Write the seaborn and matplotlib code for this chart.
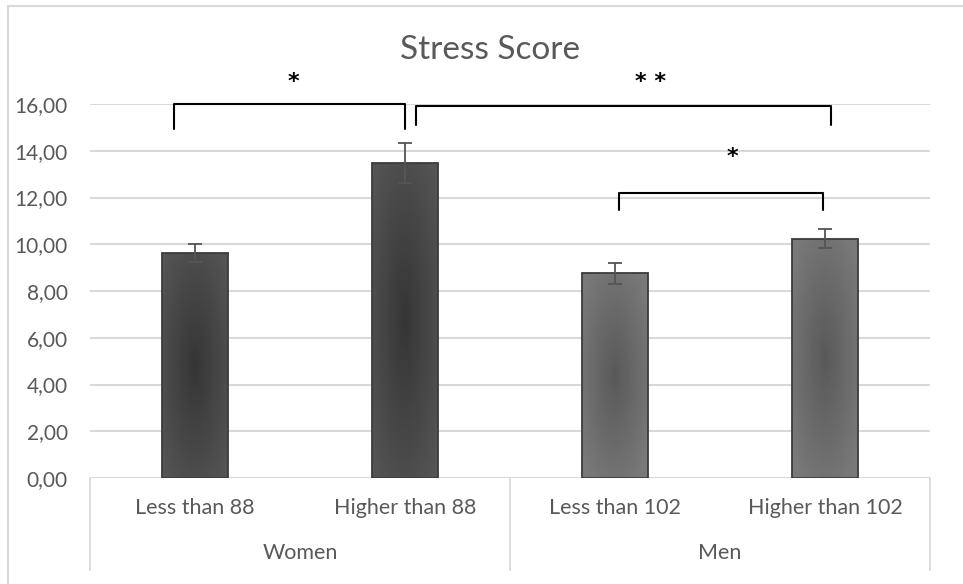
import numpy as np
import pandas as pd
import matplotlib
matplotlib.use("Agg")
import matplotlib.pyplot as plt
import seaborn as sns
from matplotlib.lines import Line2D
from matplotlib import transforms

# data
groups = ["Women", "Women", "Men", "Men"]
subgroups = ["Less than 88", "Higher than 88", "Less than 102", "Higher than 102"]
means = [9.62, 13.47, 8.75, 10.24]
errors = [0.38, 0.86, 0.43, 0.41]
group_names = ["Women", "Men"]

# significance brackets: (x start, x end, top, bottom-left, bottom-right)
brackets = [(-0.10, 1.00, 15.98, 14.93, 14.93),
            (1.05, 3.03, 15.93, 15.10, 15.10),
            (2.02, 2.99, 12.18, 11.46, 11.46)]
stars = [("*", 0.47, 16.95), ("**", 2.17, 16.95), ("*", 2.56, 13.75)]

sns.set_style("white")
plt.rcParams["font.family"] = ["Lato", "DejaVu Sans"]
text_grey = "#595959"
grid_grey = "#d9d9d9"

df = pd.DataFrame({"group": groups, "sub": subgroups, "score": means})
pal = {"Less than 88": "#484848", "Higher than 88": "#484848",
       "Less than 102": "#707070", "Higher than 102": "#707070"}

fig = plt.figure(figsize=(9.63, 5.84), dpi=100)
ax = fig.add_axes([90 / 963, 106 / 584, 840 / 963, 374 / 584])

sns.barplot(data=df, x="sub", y="score", hue="sub", palette=pal, legend=False,
            width=0.31, edgecolor="#3c3c3c", linewidth=1.3, ax=ax, zorder=3)

# radial shading like the Excel gradient fill
yy, xx = np.mgrid[-1:1:100j, -1:1:60j]
r = np.clip(np.sqrt(xx ** 2 + yy ** 2) / 1.3, 0, 1)
for patch, sub in zip(ax.patches, subgroups):
    x0, y0 = patch.get_x(), patch.get_y()
    w, h = patch.get_width(), patch.get_height()
    if sub in ("Less than 88", "Higher than 88"):
        lo, hi = 0.21, 0.33
    else:
        lo, hi = 0.35, 0.48
    shade = lo + (hi - lo) * r
    img = ax.imshow(shade, cmap="gray", vmin=0, vmax=1, aspect="auto",
                    extent=[x0, x0 + w, y0, y0 + h], zorder=3.5,
                    interpolation="bilinear")
    img.set_clip_path(patch)
    patch.set_facecolor("none")
    patch.set_zorder(4)

ax.errorbar(range(len(means)), means, yerr=errors, fmt="none",
            ecolor="#555555", elinewidth=1.3, capsize=5, capthick=1.3, zorder=5)

ax.set_xlim(-0.5, 3.5)
ax.set_ylim(0, 16)
ax.set_yticks(np.arange(0, 17, 2))
ax.set_yticklabels([f"{v:.2f}".replace(".", ",") for v in np.arange(0, 17, 2)],
                   color=text_grey, fontsize=15)
ax.tick_params(axis="y", length=0, pad=16)
ax.set_xticks([])
ax.set_xlabel("")
ax.set_ylabel("")
for s in ax.spines.values():
    s.set_visible(False)
ax.yaxis.grid(True, color=grid_grey, linewidth=1.5, zorder=0)
ax.set_axisbelow(True)

# category axis table below the plot
tr = transforms.blended_transform_factory(ax.transData, ax.transAxes)
for xv in [-0.5, 1.5, 3.5]:
    ax.add_line(Line2D([xv, xv], [0, -0.246], transform=tr, color=grid_grey,
                       linewidth=1.3, clip_on=False))
for i, lab in enumerate(subgroups):
    ax.text(i, -0.08, lab, transform=tr, ha="center", va="center",
            color=text_grey, fontsize=15.5)
for k, g in enumerate(group_names):
    ax.text(0.5 + 2 * k, -0.2, g, transform=tr, ha="center", va="center",
            color=text_grey, fontsize=15.5)

# significance brackets
for x1, x2, top, b1, b2 in brackets:
    ax.plot([x1, x1, x2, x2], [b1, top, top, b2], color="black", linewidth=1.5,
            clip_on=False, zorder=6, solid_joinstyle="round")
for s, xs, ys in stars:
    ax.text(xs, ys, " ".join(s), ha="center", va="center", fontsize=16,
            color="black", family="DejaVu Sans", fontweight="bold",
            clip_on=False)

fig.text(0.509, 1 - 50 / 584, "Stress Score", ha="center", va="center",
         color=text_grey, fontsize=24)

# chart frame (top and left edges visible)
fig.add_artist(Line2D([8 / 963, 1], [1 - 6 / 584, 1 - 6 / 584],
                      transform=fig.transFigure, color=grid_grey, linewidth=1.5))
fig.add_artist(Line2D([8 / 963, 8 / 963], [0, 1 - 6 / 584],
                      transform=fig.transFigure, color=grid_grey, linewidth=1.5))

fig.savefig("out.png", dpi=100)
